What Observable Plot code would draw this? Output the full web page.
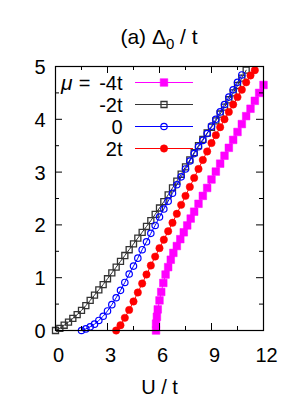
<!DOCTYPE html>
<html>
<head>
<meta charset="utf-8">
<script src="https://cdn.jsdelivr.net/npm/d3@7"></script>
<script src="https://cdn.jsdelivr.net/npm/@observablehq/plot@0.6"></script>
<style>
  html, body { margin: 0; padding: 0; background: #fff; overflow: hidden; }
  body { width: 300px; height: 400px; font-family: "Liberation Sans", Arial, sans-serif; }
  #title { position: relative; height: 56px; width: 300px; }
  #title div { position: absolute; left: 18px; width: 282px; top: 27px; text-align: center; font-size: 21px; line-height: 20px; color: #000; }
  #title sub { font-size: 15px; vertical-align: -5px; line-height: 0; }
  svg { display: block; }
</style>
</head>
<body>
<div id="title"><div>(a) Δ<sub>0</sub> / t</div></div>
<div id="chart"></div>
<script>
// ---- data ----
const seriesNames = ["-4t", "-2t", "0", "2t"];
const seriesColors = ["#ff00ff", "#333333", "#0000ff", "#ff0000"];

const uM4 = [5.8, 5.8, 5.85, 5.9, 6.0, 6.1, 6.22, 6.35, 6.5, 6.65, 6.8, 7.0, 7.2, 7.4, 7.6, 7.8, 8.0, 8.25, 8.5, 8.75, 9.0, 9.25, 9.5, 9.75, 10.0, 10.25, 10.5, 10.75, 11.0, 11.25, 11.5, 11.75, 12.0];
const dM4 = [0.0, 0.13, 0.26, 0.4, 0.57, 0.73, 0.9, 1.06, 1.2, 1.34, 1.47, 1.6, 1.73, 1.86, 1.99, 2.12, 2.25, 2.4, 2.55, 2.7, 2.86, 3.01, 3.16, 3.31, 3.46, 3.61, 3.76, 3.91, 4.06, 4.2, 4.35, 4.5, 4.65];

const uM2 = [0, 0.25, 0.5, 0.75, 1, 1.25, 1.5, 1.75, 2, 2.25, 2.5, 2.75, 3, 3.25, 3.5, 3.75, 4, 4.25, 4.5, 4.75, 5, 5.25, 5.5, 5.75, 6, 6.25, 6.5, 6.75, 7, 7.25, 7.5, 7.75, 8, 8.25, 8.5, 8.75, 9, 9.25, 9.5, 9.75, 10, 10.25, 10.5, 10.75, 11];
const dM2 = [0, 0.04, 0.1, 0.16, 0.23, 0.3, 0.38, 0.47, 0.57, 0.67, 0.77, 0.87, 0.98, 1.09, 1.2, 1.31, 1.42, 1.53, 1.64, 1.75, 1.86, 1.97, 2.08, 2.2, 2.32, 2.44, 2.57, 2.7, 2.83, 2.96, 3.1, 3.23, 3.37, 3.5, 3.62, 3.74, 3.85, 3.97, 4.1, 4.23, 4.37, 4.5, 4.64, 4.78, 4.93];

const uZ = [1.5, 1.75, 2, 2.25, 2.5, 2.75, 3, 3.25, 3.5, 3.75, 4, 4.25, 4.5, 4.75, 5, 5.25, 5.5, 5.75, 6, 6.25, 6.5, 6.75, 7, 7.25, 7.5, 7.75, 8, 8.25, 8.5, 8.75, 9, 9.25, 9.5, 9.75, 10, 10.25, 10.5, 10.75];
const dZ = [0, 0.03, 0.07, 0.12, 0.19, 0.27, 0.37, 0.49, 0.62, 0.76, 0.91, 1.07, 1.22, 1.37, 1.53, 1.68, 1.84, 1.99, 2.15, 2.3, 2.45, 2.6, 2.76, 2.91, 3.06, 3.21, 3.35, 3.48, 3.6, 3.73, 3.87, 4.0, 4.14, 4.28, 4.42, 4.56, 4.7, 4.84];

const uP2 = [3.5, 3.75, 4, 4.25, 4.5, 4.75, 5, 5.25, 5.5, 5.75, 6, 6.25, 6.5, 6.75, 7, 7.25, 7.5, 7.75, 8, 8.25, 8.5, 8.75, 9, 9.25, 9.5, 9.75, 10, 10.25, 10.5, 10.75, 11, 11.25, 11.5];
const dP2 = [0, 0.1, 0.24, 0.39, 0.55, 0.72, 0.89, 1.06, 1.23, 1.4, 1.56, 1.72, 1.88, 2.04, 2.21, 2.38, 2.55, 2.72, 2.89, 3.06, 3.23, 3.39, 3.55, 3.7, 3.85, 4.0, 4.14, 4.28, 4.42, 4.56, 4.7, 4.83, 4.93];

const xTicks = [0, 3, 6, 9, 12];
const xMinorTicks = [1.5, 4.5, 7.5, 10.5];
const yTicks = [0, 1, 2, 3, 4, 5];
const yMinorTicks = [0.5, 1.5, 2.5, 3.5, 4.5];
const xLabel = "U / t";

// ---- build table ----
const seriesU = [uM4, uM2, uZ, uP2];
const seriesD = [dM4, dM2, dZ, dP2];
const tables = seriesNames.map((name, i) =>
  seriesU[i].map((u, j) => ({ s: name, U: u, D: seriesD[i][j] })));

// ---- layout ----
const W = 300, H = 344, mt = 10, mb = 70, ml = 55, mr = 37;
const fw = W - ml - mr, fh = H - mt - mb;
const xDom = [0, 12], yDom = [0, 5];
const pxToU = p => xDom[0] + p / fw * (xDom[1] - xDom[0]);
const pyToD = p => yDom[1] - p / fh * (yDom[1] - yDom[0]);
const font = "Liberation Sans, Arial, sans-serif";

const markStyle = [
  { symbol: "square", r: 4.3, fill: seriesColors[0], stroke: seriesColors[0], strokeWidth: 0.5 },
  { symbol: "square", r: 3.4, fill: "none", stroke: seriesColors[1], strokeWidth: 1.3 },
  { symbol: "circle", r: 3.2, fill: "none", stroke: seriesColors[2], strokeWidth: 1.2 },
  { symbol: "circle", r: 3.7, fill: seriesColors[3], stroke: seriesColors[3], strokeWidth: 0.5 }
];

const marks = [];
// series: lines + markers (draw order as in legend)
tables.forEach((t, i) => {
  marks.push(Plot.line(t, { x: "U", y: "D", stroke: seriesColors[i], strokeWidth: 1 }));
  marks.push(Plot.dot(t, { x: "U", y: "D", ...markStyle[i] }));
});

// inward ticks on all four sides
const major = 7, minor = 4;
marks.push(
  Plot.tickX(xTicks, { x: d => d, insetTop: fh - major, stroke: "black" }),
  Plot.tickX(xTicks, { x: d => d, insetBottom: fh - major, stroke: "black" }),
  Plot.tickX(xMinorTicks, { x: d => d, insetTop: fh - minor, stroke: "black" }),
  Plot.tickX(xMinorTicks, { x: d => d, insetBottom: fh - minor, stroke: "black" }),
  Plot.tickY(yTicks, { y: d => d, insetRight: fw - major, stroke: "black" }),
  Plot.tickY(yTicks, { y: d => d, insetLeft: fw - major, stroke: "black" }),
  Plot.tickY(yMinorTicks, { y: d => d, insetRight: fw - minor, stroke: "black" }),
  Plot.tickY(yMinorTicks, { y: d => d, insetLeft: fw - minor, stroke: "black" }),
  Plot.frame({ stroke: "black", strokeWidth: 1.2 })
);

// tick labels
marks.push(
  Plot.text(xTicks, { x: d => d, text: d => String(d), frameAnchor: "bottom", dy: 25, dx: 3, lineAnchor: "middle", fontSize: 20, fill: "black" }),
  Plot.text(yTicks, { y: d => d, text: d => String(d), frameAnchor: "left", dx: -10, dy: 1, textAnchor: "end", lineAnchor: "middle", fontSize: 20, fill: "black" }),
  Plot.text([xLabel], { text: d => d, frameAnchor: "bottom", dy: 57, lineAnchor: "middle", fontSize: 20, fill: "black" })
);

// legend (inside the frame, top-left)
const rowY = [16, 38, 60, 82];
const lx1 = 80, lx2 = 138, lxm = 108.5, ltx = 67;
seriesNames.forEach((name, i) => {
  const yv = pyToD(rowY[i]);
  marks.push(Plot.ruleY([yv], { x1: pxToU(lx1), x2: pxToU(lx2), stroke: seriesColors[i], strokeWidth: 1 }));
  marks.push(Plot.dot([0], { x: pxToU(lxm), y: yv, ...markStyle[i] }));
  marks.push(Plot.text([name], { text: d => d, frameAnchor: "top-left", dx: ltx, dy: rowY[i] + 1, textAnchor: "end", lineAnchor: "middle", fontSize: 20, fill: "black" }));
});
marks.push(Plot.text(["="], { text: d => d, frameAnchor: "top-left", dx: 29, dy: rowY[0] + 1, textAnchor: "middle", lineAnchor: "middle", fontSize: 20, fill: "black" }));
marks.push(Plot.text(["μ"], { text: d => d, frameAnchor: "top-left", dx: 17, dy: rowY[0] + 1, textAnchor: "end", lineAnchor: "middle", fontSize: 21, fontStyle: "italic", fill: "black" }));

const chart = Plot.plot({
  width: W, height: H,
  marginTop: mt, marginBottom: mb, marginLeft: ml, marginRight: mr,
  style: { fontFamily: font, background: "white", color: "black", overflow: "visible" },
  x: { domain: xDom, axis: null },
  y: { domain: yDom, axis: null },
  marks
});
document.getElementById("chart").appendChild(chart);
</script>
</body>
</html>
